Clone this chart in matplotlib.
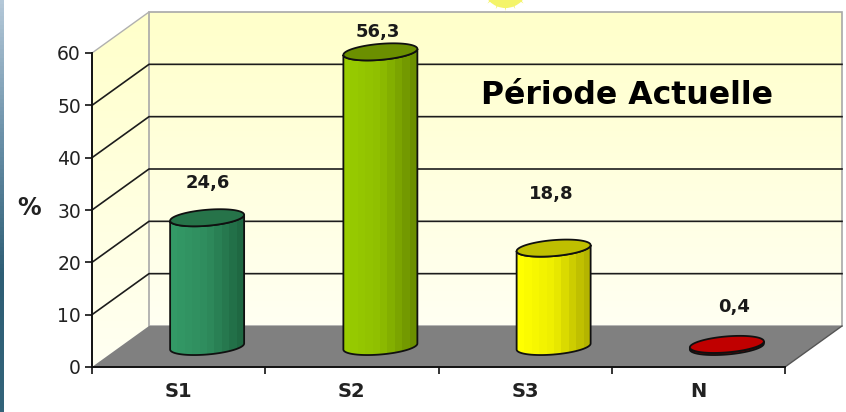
import numpy as np
import matplotlib
matplotlib.use("Agg")
import matplotlib.pyplot as plt
from matplotlib.colors import LinearSegmentedColormap, to_rgb
from matplotlib.patches import Polygon

plt.rcParams["font.family"] = ["DejaVu Sans"]

categories = ["S1", "S2", "S3", "N"]
values = [24.6, 56.3, 18.8, 0.4]
value_labels = ["24,6", "56,3", "18,8", "0,4"]
y_ticks = [0, 10, 20, 30, 40, 50, 60]

W, H = 846, 412
fig = plt.figure(figsize=(W / 100, H / 100), dpi=100, facecolor="white")

# thin blue strip at the left edge of the slide
strip = fig.add_axes([0, 0, 4 / W, 1])
strip_cmap = LinearSegmentedColormap.from_list("strip", ["#b4c8d8", "#6a90a8", "#2e5e75", "#33647a"])
strip.imshow(np.linspace(0, 1, 100).reshape(-1, 1), cmap=strip_cmap, aspect="auto")
strip.axis("off")

ax = fig.add_axes([92 / W, (H - 367) / H, 693 / W, 314 / H])
ax.patch.set_visible(False)

# data units for one pixel
ux = 4 / 693
uy = 60 / 314
dx = 57 * ux
dy = 41 * uy

wall_cmap = LinearSegmentedColormap.from_list("wall", ["#fffff2", "#ffffca"])
grad = np.linspace(1, 0, 100).reshape(-1, 1)


def clipped_image(img, pts, extent, zorder, cmap=None):
    im = ax.imshow(img, cmap=cmap, aspect="auto", extent=extent, zorder=zorder, interpolation="nearest")
    im.set_clip_box(fig.bbox)
    im.set_clip_path(Polygon(pts, transform=ax.transData))


# walls
back = [(dx, dy), (4 + dx, dy), (4 + dx, 60 + dy), (dx, 60 + dy)]
side = [(0, 0), (dx, dy), (dx, 60 + dy), (0, 60)]
clipped_image(grad, back, (dx, 4 + dx, dy, 60 + dy), 1, wall_cmap)
clipped_image(grad, side, (0, dx, 0, 60 + dy), 1, wall_cmap)

ax.add_patch(Polygon(back, closed=True, fill=False, ec="#a8a8a8", lw=1.2, zorder=2, clip_on=False))
ax.plot([0, dx], [60, 60 + dy], color="#b0b0b0", lw=1, zorder=2, clip_on=False)

# floor
floor = [(0, 0), (4, 0), (4 + dx, dy), (dx, dy)]
ax.add_patch(Polygon(floor, closed=True, fc="#808080", ec="none", zorder=3, clip_on=False))
ax.plot([4, 4 + dx], [0, dy], color="#555555", lw=1, zorder=3, clip_on=False)

# gridlines on back and side wall
for t in y_ticks[1:-1]:
    ax.plot([0, dx, 4 + dx], [t, t + dy, t + dy], color="#1c1c1c", lw=1.2, zorder=3, clip_on=False)

# cylinders
bar_colors = [
    ("#339966", "#2f8c5e", "#1f6842", "#267349"),
    ("#99cc00", "#8fbf00", "#6b8f00", "#6b8f00"),
    ("#ffff00", "#eeee00", "#b4b400", "#bfbf00"),
    ("#c00000", "#c00000", "#c00000", "#c00000"),
]
# label offset from the top of each cylinder, in points
label_offsets = [(0.4, 25), (-2, 14.5), (-2, 39), (5, 27)]

a = 37
b = 8
c = 3
t_front = np.linspace(np.pi, 2 * np.pi, 61)
xs_front = a * np.cos(t_front) * ux
ys_front = (b * np.sin(t_front) + c * np.cos(t_front)) * uy
t_all = np.linspace(0, 2 * np.pi, 100)
xs_all = a * np.cos(t_all) * ux
ys_all = (b * np.sin(t_all) + c * np.cos(t_all)) * uy

for i in range(len(values)):
    left, mid, right, top = bar_colors[i]
    cx = i + 0.5 + dx / 2
    y0 = dy / 2
    y1 = values[i] + dy / 2
    # shaded body, in coarse steps like the original
    f = np.repeat(np.linspace(0, 1, 10), 4)
    shade = np.array([np.interp(f, [0, 0.5, 1], [to_rgb(left)[k], to_rgb(mid)[k], to_rgb(right)[k]]) for k in range(3)])
    shade = shade.T.reshape(1, -1, 3)
    ox = np.concatenate([cx + xs_front, cx + xs_front[::-1]])
    oy = np.concatenate([y0 + ys_front, y1 + ys_front[::-1]])
    outline = np.c_[ox, oy]
    clipped_image(shade, outline, (cx - a * ux, cx + a * ux, oy.min(), oy.max()), 4)
    ax.add_patch(Polygon(outline, closed=True, fill=False, ec="#101010", lw=1.3, zorder=5, clip_on=False))
    ax.add_patch(Polygon(np.c_[cx + xs_all, y1 + ys_all], closed=True, fc=top, ec="#101010", lw=1.3, zorder=6, clip_on=False))
    ax.annotate(value_labels[i], (cx, y1), xytext=label_offsets[i], textcoords="offset points",
                ha="center", va="center", fontsize=13, fontweight="bold", color="#1a1a1a",
                zorder=7, annotation_clip=False)

ax.set_xlim(0, 4)
ax.set_ylim(0, 60)

# axes
for s in ["top", "right"]:
    ax.spines[s].set_visible(False)
for s in ["left", "bottom"]:
    ax.spines[s].set_color("#111111")
    ax.spines[s].set_linewidth(1.4)
    ax.spines[s].set_zorder(8)
ax.set_yticks(y_ticks)
ax.tick_params(axis="y", length=5, width=1.2, pad=3, labelsize=13.5, labelcolor="#222222", color="#111111")
ax.set_xticks(range(5))
ax.set_xticklabels([])
ax.set_xticks([i + 0.5 for i in range(4)], labels=categories, minor=True)
ax.tick_params(axis="x", which="major", length=5, width=1.2, color="#111111")
ax.tick_params(axis="x", which="minor", length=0, pad=11, labelsize=14, labelcolor="#222222")
for lab in ax.get_xminorticklabels():
    lab.set_fontweight("bold")

ax.set_ylabel("%", rotation=0, fontsize=17, fontweight="bold", color="#222222", va="center", ha="center")
ax.yaxis.set_label_coords(-63 / 693, (367 - 208) / 314)

ax.text((627 - 92) * ux, (367 - 96) * uy, "Période Actuelle", fontsize=22.7, fontweight="bold",
        color="#000000", ha="center", va="center", zorder=7, clip_on=False)

# bit of the sun cut off by the top of the picture
sun_x = (505 - 92) * ux
sun_y = (367 + 15) * uy
ax.scatter([sun_x], [sun_y], s=1050, marker="o", color="#f4f46a", lw=0, zorder=1, clip_on=False)
ax.scatter([sun_x], [sun_y], s=1350, marker=(16, 1, 0), color="#f4f46a", lw=0, zorder=1, clip_on=False)

fig.savefig("out.png", dpi=100)
